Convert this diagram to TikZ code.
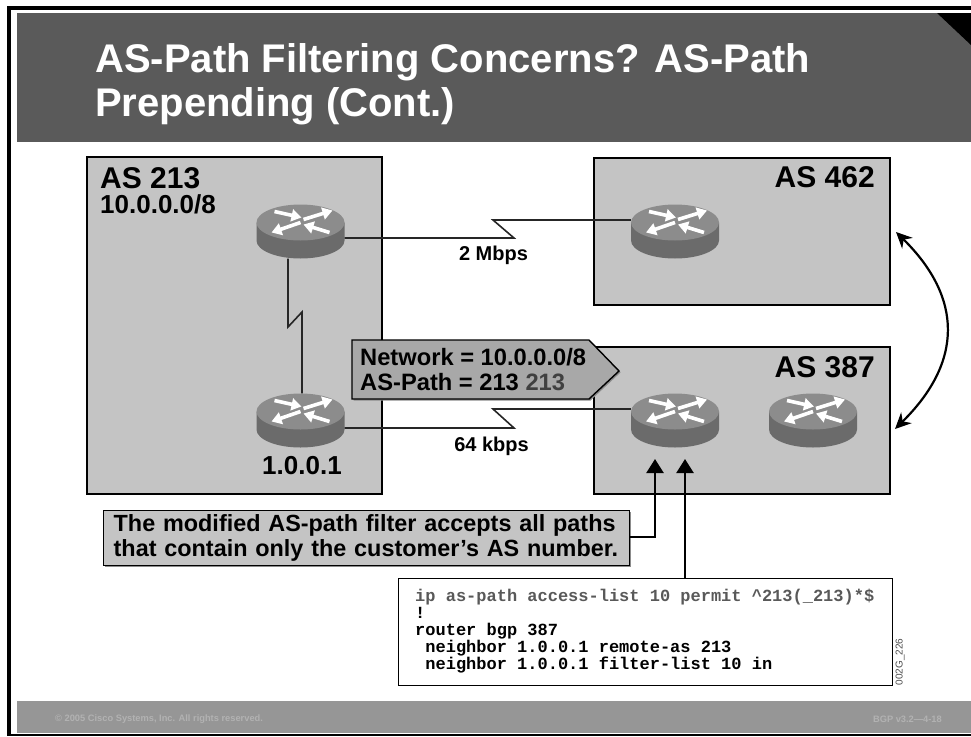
\documentclass[tikz,border=0pt]{standalone}
\usepackage{fontspec}
\setmainfont{Liberation Sans}
\setmonofont{Liberation Mono}
\usepackage{tikz}
\usetikzlibrary{arrows.meta,positioning,calc}
\definecolor{bandgray}{HTML}{5A5A5A}
\definecolor{footgray}{HTML}{969696}
\definecolor{asgray}{HTML}{C4C4C4}
\definecolor{tagray}{HTML}{A8A8A8}
\tikzset{
  asbox/.style={draw=black, line width=1.4pt, fill=asgray},
  aslab/.style={font=\bfseries\fontsize{30}{32}\selectfont, inner sep=0pt},
  linklab/.style={font=\bfseries\fontsize{20}{22}\selectfont, inner sep=0pt},
  serial/.style={draw=black!85, line width=1.6pt},
  pointer/.style={draw=black, line width=2.4pt, -{Triangle[length=14pt,width=17pt]}},
  routernode/.style={minimum width=88pt, minimum height=54pt, inner sep=0pt},
  flow/.style={white, line width=3.6pt, -{Triangle[length=10pt,width=12pt]}},
  foot/.style={font=\bfseries\fontsize{9.3}{11}\selectfont, text=black!30, inner sep=0pt}
}
\newcommand{\router}[2]{%
  \node[routernode] (#1) at (#2) {};
  \fill[black!58] ([xshift=-44pt,yshift=9pt]#1.center) -- ++(0,-18pt)
    arc[start angle=180,end angle=360,x radius=44pt,y radius=18pt] -- ++(0,18pt) -- cycle;
  \fill[black!45] ([yshift=9pt]#1.center) ellipse[x radius=44pt,y radius=18pt];
  \draw[flow] ([xshift=-26pt,yshift=20pt]#1.center) -- ([xshift=1pt,yshift=14pt]#1.center);
  \draw[flow] ([xshift=29pt,yshift=-1pt]#1.center) -- ([xshift=3pt,yshift=7pt]#1.center);
  \draw[flow] ([xshift=3pt,yshift=12pt]#1.center) -- ([xshift=32pt,yshift=21pt]#1.center);
  \draw[flow] ([xshift=0pt,yshift=9pt]#1.center) -- ([xshift=-29pt,yshift=-1pt]#1.center);
}
\begin{document}
\begin{tikzpicture}[x=1pt,y=-1pt]
\useasboundingbox (0,0) rectangle (971,736);
\fill[white] (0,0) rectangle (971,736);

% slide frame and bands
\fill[black] (7,6) rectangle (971,10);
\fill[black] (7,6) rectangle (11,736);
\fill[black] (11,734) rectangle (971,735.5);
\fill[bandgray] (17,13) rectangle (971,142);
\fill[black] (937,13) -- (971,13) -- (971,45) -- cycle;
\fill[footgray] (17,701) rectangle (971,733);
\node[anchor=west, text=white, align=left, inner sep=0pt, font=\bfseries\fontsize{40}{44}\selectfont] (title) at (95,84)
  {AS-Path Filtering Concerns? AS-Path\\Prepending (Cont.)};
\node[foot, anchor=west] (copy) at (55,719) {© 2005 Cisco Systems, Inc. All rights reserved.};
\node[foot, anchor=east] (course) at (942,719) {BGP v3.2—4-18};

% autonomous systems
\draw[asbox] (87,157) rectangle (382,494);
\draw[asbox] (594,158) rectangle (890,305);
\draw[asbox] (594,347) rectangle (890,494);
\node[aslab, anchor=north west] (as213) at (100,167) {AS 213};
\node[anchor=north west, inner sep=0pt, font=\bfseries\fontsize{26}{28}\selectfont] (prefix) at (100,194) {10.0.0.0/8};
\node[aslab, anchor=north east] (as462) at (875,166) {AS 462};
\node[aslab, anchor=north east] (as387) at (875,356) {AS 387};

% routers
\router{rtrA}{300.5,231.5}
\router{rtrB}{300.5,420.5}
\router{rtrC}{675,231.5}
\router{rtrD}{675,420.5}
\router{rtrE}{813,420.5}
\node[anchor=north, inner sep=0pt, font=\bfseries\fontsize{26}{28}\selectfont] (loopback) at (302,456) {1.0.0.1};

% serial links
\coordinate (kinkA) at (514,238);
\coordinate (kinkB) at (493,220);
\coordinate (kinkC) at (514,428);
\coordinate (kinkD) at (493,409);
\coordinate (kinkE) at (288,327);
\coordinate (kinkF) at (302,312);
\draw[serial] ([yshift=-6.5pt]rtrA.east) -- (kinkA) -- (kinkB) -- ([yshift=11.5pt]rtrC.west);
\draw[serial] ([yshift=-7.5pt]rtrB.east) -- (kinkC) -- (kinkD) -- ([yshift=11.5pt]rtrD.west);
\draw[serial] ([xshift=-12.5pt]rtrA.south) -- (kinkE) -- (kinkF) -- ([xshift=1.5pt]rtrB.north);
\node[linklab] (slow) at (493.5,255) {2 Mbps};
\node[linklab] (fast) at (491.5,446) {64 kbps};

% update carried to AS 387
\fill[black!45] (353.5,341.5) -- (590.5,341.5) -- (620.5,372.5) -- (590.5,400.5) -- (353.5,400.5) -- cycle;
\draw[draw=black, line width=1.4pt, fill=tagray] (352,340) -- (589,340) -- (619,371) -- (589,399) -- (352,399) -- cycle;
\node[anchor=west, align=left, inner sep=0pt, font=\bfseries\fontsize{23.7}{25}\selectfont] (update) at (360,369.5)
  {Network = 10.0.0.0/8\\AS-Path = 213 \textcolor{black!75}{213}};

% peers
\coordinate (peerTop) at (896,232);
\coordinate (peerLow) at (895,429);
\draw[{Stealth[length=16pt,width=15pt]}-{Stealth[length=16pt,width=15pt]}, line width=2.2pt] (peerTop) .. controls (963,298) and (963,362) .. (peerLow);

% filter note
\fill[black!45] (104.5,511.5) rectangle (630.5,566.5);
\node[draw=black, line width=1.4pt, fill=asgray, anchor=north west, minimum width=526pt, minimum height=55pt,
  align=left, font=\bfseries\fontsize{23.4}{25}\selectfont, inner sep=0pt, text width=506pt] (note) at (103,510)
  {The modified AS-path filter accepts all paths\\that contain only the customer’s AS number.};

% configuration
\node[draw=black, line width=1.4pt, fill=white, anchor=north west, minimum width=494pt, minimum height=107pt,
  inner sep=0pt] (config) at (398,578) {};
\node[anchor=north west, align=left, inner sep=0pt, font=\ttfamily\bfseries\fontsize{17}{17}\selectfont] (cfgtext) at (415,589)
  {\textcolor{black!65}{ip as-path access-list 10 permit \^{}213(\_213)*\$}\\
   !\\
   router bgp 387\\
   \ neighbor 1.0.0.1 remote-as 213\\
   \ neighbor 1.0.0.1 filter-list 10 in};
\node[rotate=90, inner sep=0pt, text=black!70, font=\fontsize{10}{11}\selectfont] (figid) at (900,662) {002G\_226};

% pointers at the router
\draw[pointer] (note.east |- 0,537) -| (655,459);
\draw[pointer] (685,578) -- (685,459);
\end{tikzpicture}
\end{document}
